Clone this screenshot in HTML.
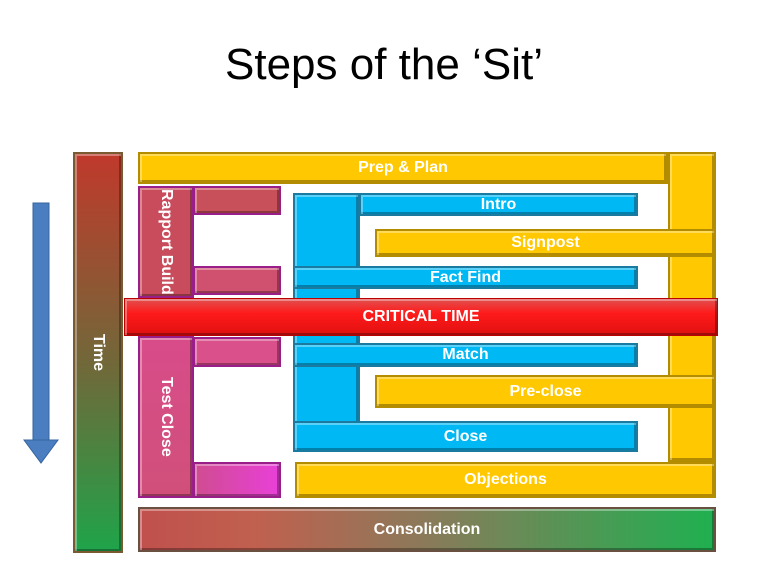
<!DOCTYPE html>
<html><head><meta charset="utf-8"><style>
body{margin:0;width:768px;height:576px;background:#fff;position:relative;overflow:hidden;font-family:"Liberation Sans",sans-serif}
.b{position:absolute;box-sizing:border-box;color:#fff;font-weight:bold;font-size:16px;display:flex;align-items:center;justify-content:center;box-shadow:inset 2px 2px 0 rgba(255,255,255,.35),inset -2px -2px 0 rgba(0,0,0,.3)}
.y{background:#ffc800;border:2px solid #b48c00}
.c{background:#00b8f4;border:2px solid #1a7aa0}
.p{background:#d9508a;border:2px solid #9a1e8a}
.v{writing-mode:vertical-rl}
</style></head><body>
<div style="position:absolute;left:0;top:40px;width:768px;text-align:center;font-size:44px;color:#000">Steps of the ‘Sit’</div>
<svg style="position:absolute;left:0;top:0" width="768" height="576"><rect x="33" y="203" width="16" height="238" fill="#4a7ec0" stroke="#3565a0"/><polygon points="24,440 58,440 41,463" fill="#4a7ec0" stroke="#3565a0"/></svg>
<div class="b v" style="left:73px;top:152px;width:50px;height:401px;background:linear-gradient(#c0392b,#6e6a3a 55%,#1fa44a);border:2px solid #7a5a30">Time</div>
<div class="b y" style="left:668px;top:152px;width:48px;height:310px"></div>
<div class="b y" style="left:138px;top:152px;width:530px;height:32px">Prep &amp; Plan</div>
<div class="b p" style="left:193px;top:186px;width:88px;height:29px;background:#c8505a"></div>
<div class="b p" style="left:193px;top:266px;width:88px;height:29px;background:#d05070"></div>
<div class="b p v" style="left:138px;top:186px;width:56px;height:112px;background:#c84c5c;line-height:18px">Rapport Build</div>
<div class="b p v" style="left:138px;top:336px;width:56px;height:162px;background:linear-gradient(#d84c8a,#d0507a)">Test Close</div>
<div class="b p" style="left:193px;top:337px;width:88px;height:30px"></div>
<div class="b p" style="left:193px;top:462px;width:88px;height:36px;background:linear-gradient(90deg,#d04c90,#e840d8)"></div>
<div class="b c" style="left:293px;top:193px;width:67px;height:259px"></div>
<div class="b c" style="left:359px;top:193px;width:279px;height:23px">Intro</div>
<div class="b y" style="left:375px;top:229px;width:341px;height:28px">Signpost</div>
<div class="b c" style="left:293px;top:266px;width:345px;height:23px">Fact Find</div>
<div class="b c" style="left:293px;top:343px;width:345px;height:24px">Match</div>
<div class="b y" style="left:375px;top:375px;width:341px;height:33px">Pre-close</div>
<div class="b c" style="left:293px;top:421px;width:345px;height:31px">Close</div>
<div class="b y" style="left:295px;top:462px;width:421px;height:36px">Objections</div>
<div class="b" style="left:124px;top:298px;width:594px;height:38px;background:linear-gradient(#e05050,#ff1a1a 40%,#e01010);border:1px solid #b00">CRITICAL TIME</div>
<div class="b" style="left:138px;top:507px;width:578px;height:45px;background:linear-gradient(90deg,#c0504d,#c0604f 20%,#8a7a5a 50%,#1fb050);border:2px solid #6a5040">Consolidation</div>
</body></html>
